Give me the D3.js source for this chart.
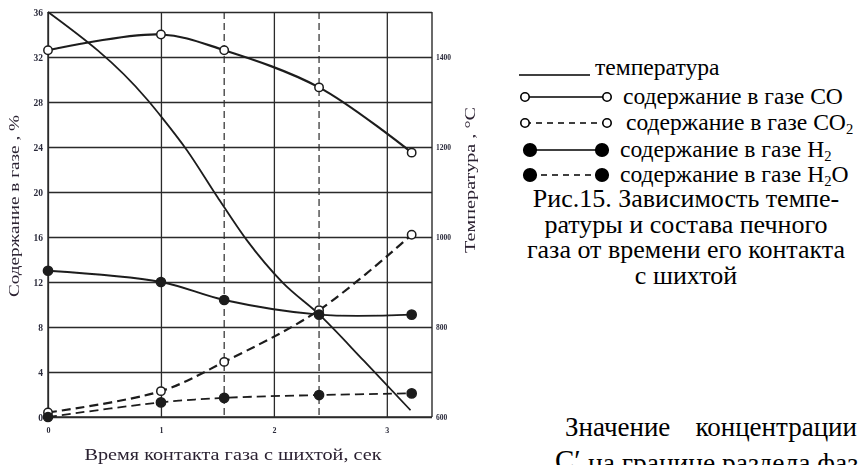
<!DOCTYPE html>
<html>
<head>
<meta charset="utf-8">
<script src="https://cdn.jsdelivr.net/npm/d3@7/dist/d3.min.js"></script>
<style>
  html, body { margin: 0; padding: 0; background: #fff; }
  svg { display: block; }
</style>
</head>
<body>
<svg id="fig" width="858" height="465" font-family="Liberation Serif, Times New Roman, serif"></svg>
<script>
// Measurement times, s
const sampleTimes = [0, 1, 1.56, 2.4, 3.22];
// Gas composition, %
const coValues  = [32.6, 34.0, 32.6, 29.3, 23.5];
const co2Values = [0.4, 2.3, 4.9, 9.5, 16.2];
const h2Values  = [13.0, 12.0, 10.4, 9.1, 9.1];
const h2oValues = [0, 1.3, 1.7, 1.95, 2.1];
// Temperature curve, °C
const tempTimes  = [0, 0.88, 1.02, 1.23, 1.5, 1.76, 2.08, 2.4, 2.8, 3.21];
const tempValues = [1500, 1305, 1262, 1193, 1089, 993, 898, 828, 724, 615];
// Tick labels
const percentTicks = [0, 4, 8, 12, 16, 20, 24, 28, 32, 36];
const tempTicks = [600, 800, 1000, 1200, 1400];
const timeTicks = [0, 1, 2, 3];

const serif = "Liberation Serif";
const svg = d3.select("#fig");
const ink = "#1c1c1c";
const plain = d => String(d);

const pLeft = 48, pRight = 432, pTop = 12, pBottom = 417;
const x  = d3.scaleLinear().domain([0, 3.4]).range([pLeft, pRight]);
const yP = d3.scaleLinear().domain([0, 36]).range([pBottom, pTop]);
const yT = d3.scaleLinear().domain([600, 1500]).range([pBottom, pTop]);

// slight softness of the printed plate
const defs = svg.append("defs");
defs.append("filter").attr("id", "soft")
  .append("feGaussianBlur").attr("stdDeviation", 0.45);

const plot = svg.append("g").attr("filter", "url(#soft)");

// percent axis with horizontal grid
const axL = plot.append("g").attr("transform", `translate(${pLeft},0)`)
  .call(d3.axisLeft(yP).tickValues(percentTicks).tickFormat(plain)
    .tickSize(-(pRight - pLeft)).tickPadding(5));
axL.select(".domain").remove();
axL.selectAll("line").attr("stroke", "#2a2a2a").attr("stroke-width", 1.3);
axL.selectAll("text").attr("font-size", 9.5).attr("font-weight", "bold")
  .attr("font-family", serif).attr("fill", "#2a2a3a");

// time axis with vertical grid
const axB = plot.append("g").attr("transform", `translate(0,${pBottom})`)
  .call(d3.axisBottom(x).tickValues(timeTicks).tickFormat(plain)
    .tickSize(-(pBottom - pTop)).tickPadding(10));
axB.select(".domain").remove();
axB.selectAll("line").attr("stroke", "#2a2a2a").attr("stroke-width", 1.3);
axB.selectAll("text").attr("font-size", 8).attr("font-weight", "bold")
  .attr("font-family", serif).attr("fill", "#2a2a3a");

// temperature axis
const axR = plot.append("g").attr("transform", `translate(${pRight},0)`)
  .call(d3.axisRight(yT).tickValues(tempTicks).tickFormat(plain).tickSize(0).tickPadding(4));
axR.select(".domain").remove();
axR.selectAll("text").attr("font-size", 7.5).attr("font-weight", "bold")
  .attr("font-family", serif).attr("fill", "#2a2a3a");

// frame
plot.append("line").attr("x1", x(3.4)).attr("x2", x(3.4)).attr("y1", pTop).attr("y2", pBottom)
  .attr("stroke", "#2a2a2a").attr("stroke-width", 1.4);
plot.append("line").attr("x1", x(0)).attr("x2", x(0)).attr("y1", pTop).attr("y2", pBottom)
  .attr("stroke", "#2a2a2a").attr("stroke-width", 1.4);
plot.append("line").attr("x1", x(0)).attr("x2", x(3.4)).attr("y1", pBottom).attr("y2", pBottom)
  .attr("stroke", "#2a2a2a").attr("stroke-width", 1.4);

// dashed verticals at intermediate sampling times
[sampleTimes[2], sampleTimes[3]].forEach(t => {
  plot.append("line").attr("x1", x(t)).attr("x2", x(t)).attr("y1", pTop).attr("y2", pBottom)
    .attr("stroke", "#2a2a2a").attr("stroke-width", 1.2).attr("stroke-dasharray", "7,4");
});

// temperature curve
const tempLine = d3.line().x(d => x(d[0])).y(d => yT(d[1])).curve(d3.curveMonotoneX);
plot.append("path").datum(tempTimes.map((t, i) => [t, tempValues[i]]))
  .attr("d", tempLine).attr("fill", "none").attr("stroke", ink).attr("stroke-width", 1.8);

// composition curves
const gasLine = d3.line().x(d => x(d[0])).y(d => yP(d[1])).curve(d3.curveCatmullRom.alpha(0.5));
const series = [
  { vals: co2Values, dash: "9,5", filled: false },
  { vals: h2oValues, dash: "9,5", filled: true },
  { vals: h2Values,  dash: null,  filled: true },
  { vals: coValues,  dash: null,  filled: false }
];
series.forEach(s => {
  const pts = sampleTimes.map((t, i) => [t, s.vals[i]]);
  plot.append("path").datum(pts).attr("d", gasLine).attr("fill", "none")
    .attr("stroke", ink).attr("stroke-width", s.filled ? 1.8 : 2.2)
    .attr("stroke-dasharray", s.dash);
  plot.selectAll(null).data(pts).join("circle")
    .attr("cx", d => x(d[0])).attr("cy", d => yP(d[1]))
    .attr("r", s.filled ? 4.6 : 4.2)
    .attr("fill", s.filled ? ink : "#fff")
    .attr("stroke", ink).attr("stroke-width", 1.5);
});

// axis titles
plot.append("text").attr("transform", "translate(19,206) rotate(-90)")
  .attr("text-anchor", "middle").attr("font-size", 15).attr("fill", "#2a2030")
  .attr("font-family", serif)
  .attr("textLength", 182).attr("lengthAdjust", "spacingAndGlyphs")
  .text("Содержание в газе , %");
plot.append("text").attr("transform", "translate(475,180) rotate(-90)")
  .attr("text-anchor", "middle").attr("font-size", 15).attr("fill", "#2a2030")
  .attr("font-family", serif)
  .attr("textLength", 146).attr("lengthAdjust", "spacingAndGlyphs")
  .text("Температура , °С");
plot.append("text").attr("x", 233).attr("y", 460)
  .attr("text-anchor", "middle").attr("font-size", 17).attr("fill", "#2a2030")
  .attr("font-family", serif)
  .attr("textLength", 297).attr("lengthAdjust", "spacingAndGlyphs")
  .text("Время контакта газа с шихтой, сек");

// legend
const lg = svg.append("g").attr("font-family", serif).attr("fill", "#000");
const fs = 23.6;
lg.append("line").attr("x1", 519).attr("x2", 590).attr("y1", 75).attr("y2", 75)
  .attr("stroke", "#000").attr("stroke-width", 1.5);
lg.append("text").attr("x", 595).attr("y", 75).attr("font-size", fs).text("температура");

const legendRows = [
  { y: 97,  x1: 525, x2: 607, tx: 623, dash: null, filled: false, label: "содержание в газе CO", sub: null, tail: "" },
  { y: 123, x1: 525, x2: 607, tx: 626, dash: "6,5", filled: false, label: "содержание в газе CO", sub: "2", tail: "" },
  { y: 150, x1: 530, x2: 602, tx: 620, dash: null, filled: true, label: "содержание в газе H", sub: "2", tail: "" },
  { y: 175, x1: 530, x2: 602, tx: 620, dash: "6,5", filled: true, label: "содержание в газе H", sub: "2", tail: "O" }
];
legendRows.forEach(r => {
  lg.append("line").attr("x1", r.x1).attr("x2", r.x2).attr("y1", r.y).attr("y2", r.y)
    .attr("stroke", "#000").attr("stroke-width", 1.6).attr("stroke-dasharray", r.dash);
  [r.x1, r.x2].forEach(cx => {
    lg.append("circle").attr("cx", cx).attr("cy", r.y)
      .attr("r", r.filled ? 6.3 : 4.2)
      .attr("fill", r.filled ? "#000" : "#fff")
      .attr("stroke", "#000").attr("stroke-width", 1.6);
  });
  const t = lg.append("text").attr("x", r.tx).attr("y", r.y + 7).attr("font-size", fs);
  t.append("tspan").text(r.label);
  if (r.sub) t.append("tspan").attr("font-size", fs * 0.62).attr("dy", 4).text(r.sub);
  if (r.tail) t.append("tspan").attr("dy", -4).text(r.tail);
});

// caption
const captionLines = [
  "Рис.15. Зависимость темпе-",
  "ратуры и состава печного",
  "газа от времени его контакта",
  "с шихтой"
];
lg.selectAll(null).data(captionLines).join("text")
  .attr("x", 686).attr("y", (d, i) => 207 + i * 25.7)
  .attr("text-anchor", "middle").attr("font-size", 26).text(d => d);

// running text below
lg.append("text").attr("x", 565).attr("y", 436).attr("font-size", 27).text("Значение");
lg.append("text").attr("x", 857).attr("y", 436).attr("text-anchor", "end").attr("font-size", 27).text("концентрации");
lg.append("text").attr("x", 555).attr("y", 470).attr("font-size", 29).text("C′");
lg.append("text").attr("x", 858).attr("y", 472).attr("text-anchor", "end").attr("font-size", 27)
  .attr("textLength", 270).attr("lengthAdjust", "spacingAndGlyphs").text("на границе раздела фаз");
</script>
</body>
</html>
